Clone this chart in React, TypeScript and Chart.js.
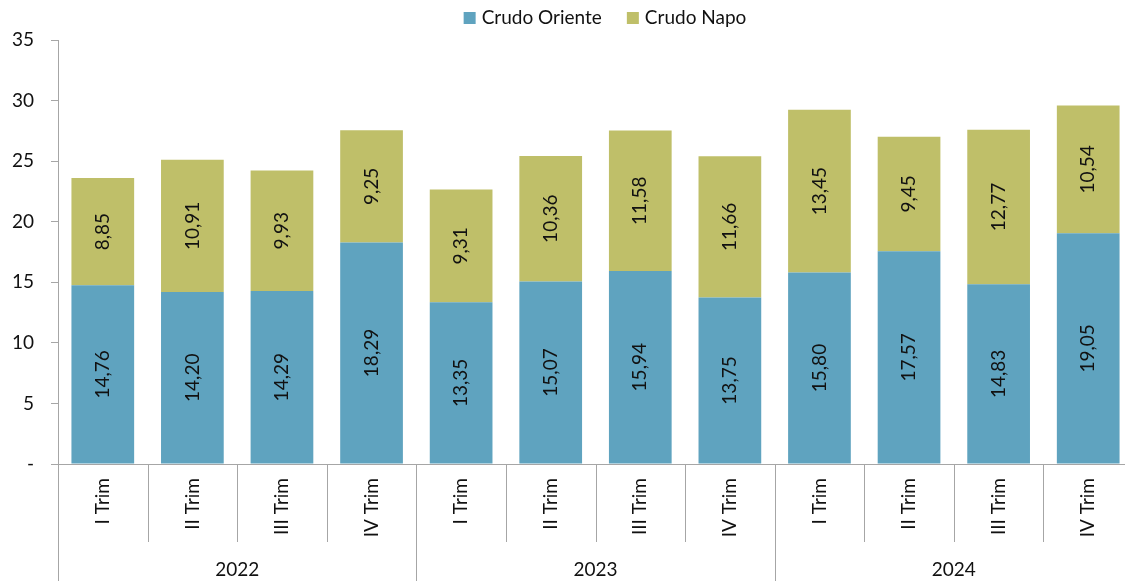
import React, { useEffect, useRef } from "react";
import { Chart, registerables } from "chart.js";

Chart.register(...registerables);

const years = ["2022", "2023", "2024"];
const quarters = ["I Trim", "II Trim", "III Trim", "IV Trim"];
const categories = years.flatMap((y) => quarters.map((q) => `${q} ${y}`));
const orienteValues = [14.76, 14.2, 14.29, 18.29, 13.35, 15.07, 15.94, 13.75, 15.8, 17.57, 14.83, 19.05];
const napoValues = [8.85, 10.91, 9.93, 9.25, 9.31, 10.36, 11.58, 11.66, 13.45, 9.45, 12.77, 10.54];
const seriesNames = ["Crudo Oriente", "Crudo Napo"];
const seriesColors = ["#5FA3BF", "#BFBF69"];

const FONT = "Lato, 'Open Sans', sans-serif";
const AXIS_COLOR = "#A6A6A6";
const FS = 19;

const fmt = (v: number) => v.toFixed(2).replace(".", ",");

const labelsPlugin = {
  id: "customDraw",
  afterDatasetsDraw(chart: any) {
    const ctx = chart.ctx;
    ctx.save();
    ctx.font = `${FS}px ${FONT}`;
    ctx.fillStyle = "#111";
    ctx.textAlign = "center";
    ctx.textBaseline = "middle";
    chart.data.datasets.forEach((ds: any, di: number) => {
      const meta = chart.getDatasetMeta(di);
      meta.data.forEach((bar: any, i: number) => {
        const cy = (bar.y + bar.base) / 2;
        ctx.save();
        ctx.translate(bar.x, cy);
        ctx.rotate(-Math.PI / 2);
        ctx.fillText(fmt(ds.data[i]), 0, 0);
        ctx.restore();
      });
    });
    ctx.restore();
  },
  afterDraw(chart: any) {
    const ctx = chart.ctx;
    const xs = chart.scales.x;
    const area = chart.chartArea;
    const n = categories.length;
    const catW = (xs.right - xs.left) / n;
    ctx.save();
    ctx.strokeStyle = AXIS_COLOR;
    ctx.lineWidth = 1;
    for (let i = 0; i < n; i++) {
      const bx = Math.round(xs.getPixelForValue(i) - catW / 2) + 0.5;
      const isYear = i % quarters.length === 0;
      ctx.beginPath();
      ctx.moveTo(bx, area.bottom);
      ctx.lineTo(bx, isYear ? chart.height : area.bottom + 78);
      ctx.stroke();
    }
    ctx.fillStyle = "#111";
    ctx.font = `${FS}px ${FONT}`;
    ctx.textAlign = "right";
    ctx.textBaseline = "middle";
    for (let i = 0; i < n; i++) {
      const cx = xs.getPixelForValue(i);
      ctx.save();
      ctx.translate(cx, area.bottom + 14);
      ctx.rotate(-Math.PI / 2);
      ctx.fillText(quarters[i % quarters.length], 0, 0);
      ctx.restore();
    }
    ctx.textAlign = "center";
    years.forEach((y, yi) => {
      const a = xs.getPixelForValue(yi * quarters.length);
      const b = xs.getPixelForValue(yi * quarters.length + quarters.length - 1);
      ctx.fillText(y, (a + b) / 2, area.bottom + 106);
    });
    ctx.font = `${FS}px ${FONT}`;
    ctx.textAlign = "left";
    const box = 12;
    const gapBox = 6;
    const gapItem = 25;
    const widths = seriesNames.map((s) => ctx.measureText(s).width);
    const total = widths.reduce((a: number, w: number) => a + box + gapBox + w, 0) + gapItem * (seriesNames.length - 1);
    let x = 605 - total / 2;
    const ly = 18;
    seriesNames.forEach((s, si) => {
      ctx.fillStyle = seriesColors[si];
      ctx.fillRect(x, ly - box / 2, box, box);
      ctx.fillStyle = "#111";
      ctx.fillText(s, x + box + gapBox, ly);
      x += box + gapBox + widths[si] + gapItem;
    });
    ctx.restore();
  },
};

export default function App() {
  const ref = useRef<HTMLCanvasElement>(null);
  useEffect(() => {
    if (!ref.current) return;
    const chart = new Chart(ref.current, {
      type: "bar",
      data: {
        labels: categories,
        datasets: [
          {
            label: seriesNames[0],
            data: orienteValues,
            backgroundColor: seriesColors[0],
            borderWidth: 0,
          },
          {
            label: seriesNames[1],
            data: napoValues,
            backgroundColor: seriesColors[1],
            borderWidth: 0,
          },
        ],
      },
      options: {
        animation: false,
        responsive: true,
        maintainAspectRatio: false,
        layout: { padding: { top: 40, right: 0, left: 0, bottom: 0 } },
        datasets: { bar: { categoryPercentage: 1, barPercentage: 0.7 } },
        plugins: {
          legend: { display: false },
          tooltip: { enabled: false },
        },
        scales: {
          x: {
            stacked: true,
            offset: true,
            ticks: { display: false },
            grid: { display: false },
            border: { display: true, color: AXIS_COLOR, width: 1 },
            afterFit: (s: any) => {
              s.height = 117;
            },
          },
          y: {
            stacked: true,
            min: 0,
            max: 35,
            ticks: {
              stepSize: 5,
              color: "#111",
              font: { size: FS, family: FONT },
              padding: 17,
              callback: (v: any) => (Number(v) === 0 ? "-" : String(v)),
            },
            grid: {
              display: true,
              drawOnChartArea: false,
              drawTicks: true,
              tickLength: 7,
              color: AXIS_COLOR,
            },
            border: { display: true, color: AXIS_COLOR, width: 1 },
            afterFit: (s: any) => {
              s.width = 58;
            },
          },
        },
      },
      plugins: [labelsPlugin],
    });
    return () => chart.destroy();
  }, []);
  return (
    <div style={{ position: "absolute", left: 0, top: 0, width: 1125, height: 581, overflow: "hidden" }}>
      <div style={{ position: "relative", width: 1133, height: 581 }}>
        <canvas ref={ref} />
      </div>
    </div>
  );
}
